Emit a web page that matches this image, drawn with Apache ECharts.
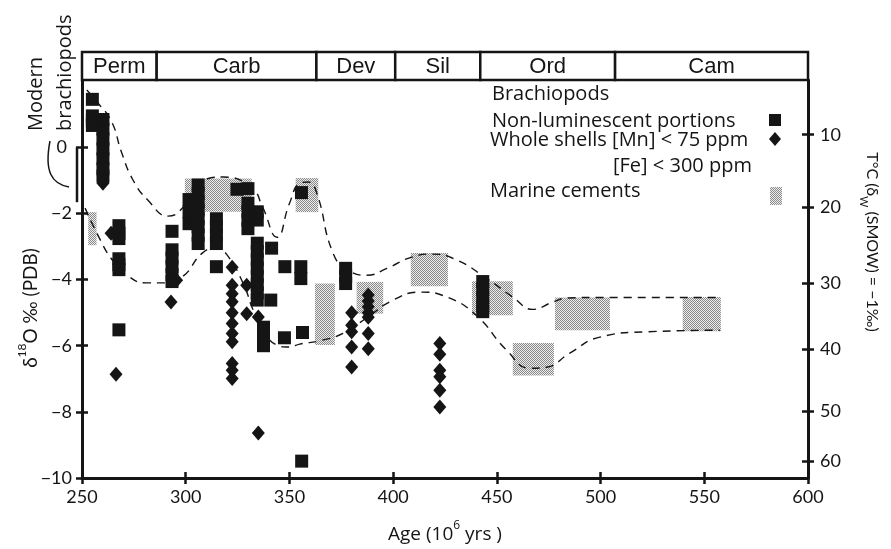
<!DOCTYPE html>
<html><head><meta charset="utf-8">
<script src="https://cdn.jsdelivr.net/npm/echarts@6/dist/echarts.min.js"></script>
<style>html,body{margin:0;padding:0;background:#fff}#c{width:891px;height:549px}</style>
</head><body><div id="c"></div>
<script>
// ---------- data ----------
const xTicks = [250, 300, 350, 400, 450, 500, 550, 600];
const leftTicks = [-10, -8, -6, -4, -2, 0];
const tempLabels = [10, 20, 30, 40, 50, 60];
const tempTickD18O = [0.38, -1.82, -4.1, -6.11, -7.97, -9.49];

const periodNames = ['Perm', 'Carb', 'Dev', 'Sil', 'Ord', 'Cam'];
const periodStart = [250, 286, 363, 401, 442, 507];
const periodEnd   = [286, 363, 401, 442, 507, 600];

// Non-luminescent portions (squares)
const squareAge = [
  255, 255, 255, 255,
  260.1, 260.1, 260.1, 260.1, 260.1, 260.1, 260.1,
  267.8, 267.8, 267.8, 267.8, 267.8, 267.8, 267.8,
  293.4, 293.4, 293.4, 293.4, 293.4, 293.4,
  301.6, 301.6, 301.6,
  306, 306, 306, 306, 306, 306, 306, 306,
  314.8, 314.8, 314.8, 314.8, 314.8,
  324.7, 330, 330, 330, 330, 330, 334.5, 334.5,
  334.5, 334.5, 334.5, 334.5, 334.5, 334.5, 334.5, 334.5, 341.4, 341,
  337.5, 337.5, 337.5,
  347.8, 355.5, 355.5, 347.6, 356.3, 355.9, 355.8,
  377.1, 377.1, 377.1,
  443.2, 443.2, 443.2, 443.2, 443.2
];
const squareD18O = [
  1.45, 0.95, 0.8, 0.66,
  0.84, 0.55, 0.25, -0.05, -0.35, -0.65, -0.87,
  -2.37, -2.6, -2.76, -3.37, -3.55, -3.7, -5.52,
  -2.54, -3.1, -3.35, -3.6, -3.85, -4.06,
  -1.58, -1.95, -2.31,
  -1.14, -1.4, -1.65, -1.9, -2.15, -2.4, -2.65, -2.91,
  -2.16, -2.4, -2.65, -2.91, -3.61,
  -1.27, -1.25, -1.69, -1.95, -2.2, -2.46, -1.95, -2.2,
  -2.9, -3.15, -3.4, -3.65, -3.9, -4.15, -4.4, -4.62, -3.05, -4.62,
  -5.44, -5.7, -6.0,
  -3.61, -3.61, -3.97, -5.76, -5.6, -9.49, -1.37,
  -3.66, -3.9, -4.12,
  -4.06, -4.3, -4.55, -4.8, -4.97
];

// Whole shells (diamonds)
const diamondAge = [
  260.1, 264, 266.4, 295.6, 292.9,
  322.4, 322.4, 322.4, 322.4, 322.4, 322.4, 322.4, 322.4, 322.4, 322.4, 322.4,
  329.4, 329.4, 335, 335,
  380, 380, 380, 380, 380,
  388, 388, 388, 388, 388, 388, 388,
  422.5, 422.5, 422.5, 422.5, 422.5, 422.5
];
const diamondD18O = [
  -1.09, -2.6, -6.86, -4.02, -4.68,
  -3.63, -4.17, -4.43, -4.67, -5.0, -5.33, -5.63, -5.88, -6.54, -6.74, -6.99,
  -4.17, -5.03, -5.13, -8.64,
  -5.0, -5.38, -5.58, -6.04, -6.64,
  -4.47, -4.65, -4.82, -5.0, -5.14, -5.63, -6.09,
  -5.93, -6.26, -6.74, -6.94, -7.35, -7.85
];

// Marine cements (shaded boxes)
const cementAgeFrom = [253, 299.6, 353, 362.3, 382.4, 408.5, 438, 457.7, 478, 539.6];
const cementAgeTo   = [257, 331.8, 363.9, 371.9, 395.2, 426.4, 457.7, 477.5, 504.5, 558];
const cementTop     = [-1.96, -0.94, -0.93, -4.12, -4.07, -3.2, -4.05, -5.92, -4.54, -4.53];
const cementBottom  = [-2.96, -1.95, -1.96, -5.98, -5.03, -4.2, -5.08, -6.9, -5.53, -5.56];

// Dashed envelope curves
const upperAge  = [252.3, 257.7, 264.3, 269, 274.6, 281.8, 291.5, 302, 311.7, 318, 332, 337, 344, 350, 355, 359, 363, 371, 378, 387.3, 397, 409, 419, 430.7, 445, 457.7, 467.3, 477, 483.7, 500, 558];
const upperD18O = [1.73, 1.34, 0.77, -0.14, -0.99, -1.6, -2.08, -1.6, -0.93, -0.9, -1.24, -1.8, -2.72, -1.7, -1.09, -1.05, -1.35, -3.2, -3.7, -3.87, -3.66, -3.32, -3.23, -3.41, -3.96, -4.53, -4.9, -4.68, -4.56, -4.54, -4.54];
const lowerAge  = [251.5, 258, 264.5, 271.7, 281, 290, 298.7, 308, 315, 320, 327.6, 334, 344, 350, 355, 364.7, 375.8, 387, 400, 413, 426, 440, 454.8, 466, 474, 485, 499.6, 522, 557.5];
const lowerD18O = [-1.84, -2.7, -3.4, -3.87, -4.1, -4.1, -3.9, -3.2, -3.05, -3.26, -4.1, -5.1, -5.98, -6.04, -5.95, -5.85, -5.63, -5.17, -4.62, -4.38, -4.53, -5.08, -6.14, -6.68, -6.65, -6.23, -5.74, -5.58, -5.53];

// Modern brachiopods range
const modernAge = 250, modernTop = 0, modernBottom = -1.66;

// ---------- chart ----------
const INK = '#151515';
const FONT = 'Lato';
const TFONT = 'Open Sans';
const pc = document.createElement('canvas');
pc.width = 2; pc.height = 2;
const pctx = pc.getContext('2d');
pctx.fillStyle = '#ececec'; pctx.fillRect(0, 0, 2, 2);
pctx.fillStyle = '#8a8a8a'; pctx.fillRect(0, 0, 1, 1); pctx.fillRect(1, 1, 1, 1);
const cementFill = { image: pc, repeat: 'repeat' };

const minus = v => String(v).replace('-', '\u2212');
const chart = echarts.init(document.getElementById('c'), null, { renderer: 'canvas' });

const yBase = { min: -10, max: 2.035, interval: 2, splitLine: { show: false } };

chart.setOption({
  animation: false,
  backgroundColor: '#fff',
  grid: [
    { left: 82, right: 83, top: 80, bottom: 71 },
    { left: 82, right: 83, top: 52, height: 28 }
  ],
  xAxis: [
    { gridIndex: 0, type: 'value', min: 250, max: 600, interval: 50,
      axisLine: { onZero: false, lineStyle: { color: INK, width: 3 } },
      axisTick: { length: 6, lineStyle: { color: INK, width: 2.5 } },
      axisLabel: { color: INK, fontSize: 18, fontFamily: FONT, margin: 10 },
      splitLine: { show: false },
      name: '{a|Age (10}{s|6}{a| yrs )}', nameLocation: 'middle', nameGap: 42,
      nameTextStyle: { rich: { a: { fontSize: 19, fontFamily: TFONT, color: INK, verticalAlign: 'bottom', lineHeight: 24 },
                               s: { fontSize: 12, fontFamily: TFONT, color: INK, verticalAlign: 'top', lineHeight: 24 } } } },
    { gridIndex: 0, type: 'value', min: 250, max: 600, interval: 50, position: 'bottom',
      axisLine: { show: false, onZero: false }, axisLabel: { show: false }, splitLine: { show: false },
      axisTick: { inside: true, length: 6, lineStyle: { color: INK, width: 2.5 } } },
    { gridIndex: 1, type: 'value', min: 250, max: 600, show: false }
  ],
  yAxis: [
    Object.assign({ gridIndex: 0, type: 'value', position: 'left',
      axisLine: { show: true, onZero: false, lineStyle: { color: INK, width: 3 } },
      axisTick: { show: true, length: 6, customValues: leftTicks, lineStyle: { color: INK, width: 2.5 } },
      axisLabel: { color: INK, fontSize: 18, fontFamily: FONT, margin: 10, customValues: leftTicks,
        formatter: v => v === 0 ? '{z|0}' : minus(v),
        rich: { z: { fontSize: 18, fontFamily: FONT, color: INK, padding: [0, 5, 0, 0] } } } }, yBase),
    Object.assign({ gridIndex: 0, type: 'value', position: 'right',
      axisLine: { show: true, onZero: false, lineStyle: { color: INK, width: 3 } },
      axisTick: { show: true, length: 6, customValues: tempTickD18O, lineStyle: { color: INK, width: 2.5 } },
      axisLabel: { color: INK, fontSize: 18, fontFamily: FONT, margin: 12, customValues: tempTickD18O,
        formatter: v => { const i = tempTickD18O.findIndex(t => Math.abs(t - v) < 1e-6); return i >= 0 ? String(tempLabels[i]) : ''; } } }, yBase),
    Object.assign({ gridIndex: 0, type: 'value', position: 'left',
      axisLine: { show: false, onZero: false }, axisLabel: { show: false },
      axisTick: { show: true, inside: true, length: 6, customValues: leftTicks, lineStyle: { color: INK, width: 2.5 } } }, yBase),
    Object.assign({ gridIndex: 0, type: 'value', position: 'right',
      axisLine: { show: false, onZero: false }, axisLabel: { show: false },
      axisTick: { show: true, inside: true, length: 6, customValues: tempTickD18O, lineStyle: { color: INK, width: 2.5 } } }, yBase),
    { gridIndex: 1, type: 'value', min: 0, max: 1, show: false }
  ],
  series: [
    { type: 'custom', name: 'Marine cements', xAxisIndex: 0, yAxisIndex: 0, z: 1,
      data: cementAgeFrom.map((a, i) => [a, cementAgeTo[i], cementTop[i], cementBottom[i]]),
      renderItem: (params, api) => {
        const p0 = api.coord([api.value(0), api.value(2)]);
        const p1 = api.coord([api.value(1), api.value(3)]);
        return { type: 'rect', shape: { x: p0[0], y: p0[1], width: p1[0] - p0[0], height: p1[1] - p0[1] },
                 style: { fill: cementFill } };
      } },
    { type: 'line', name: 'upper', xAxisIndex: 0, yAxisIndex: 0, z: 2, smooth: 0.5, showSymbol: false, symbol: 'none',
      data: upperAge.map((a, i) => [a, upperD18O[i]]),
      lineStyle: { color: INK, width: 1.4, type: [8, 6] } },
    { type: 'line', name: 'lower', xAxisIndex: 0, yAxisIndex: 0, z: 2, smooth: 0.5, showSymbol: false, symbol: 'none',
      data: lowerAge.map((a, i) => [a, lowerD18O[i]]),
      lineStyle: { color: INK, width: 1.4, type: [8, 6] } },
    { type: 'scatter', name: 'Non-luminescent portions', xAxisIndex: 0, yAxisIndex: 0, z: 3,
      symbol: 'rect', symbolSize: 13, itemStyle: { color: INK, opacity: 1 },
      data: squareAge.map((a, i) => [a, squareD18O[i]]) },
    { type: 'scatter', name: 'Whole shells', xAxisIndex: 0, yAxisIndex: 0, z: 3,
      symbol: 'diamond', symbolSize: [13, 15], itemStyle: { color: INK, opacity: 1 },
      data: diamondAge.map((a, i) => [a, diamondD18O[i]]) },
    { type: 'custom', name: 'modern', xAxisIndex: 0, yAxisIndex: 0, z: 4, clip: false,
      data: [[modernAge, modernTop, modernBottom]],
      renderItem: (params, api) => {
        const p0 = api.coord([api.value(0), api.value(1)]);
        const p1 = api.coord([api.value(0), api.value(2)]);
        return { type: 'line', shape: { x1: p0[0] - 5, y1: p0[1], x2: p1[0] - 5, y2: p1[1] },
                 style: { stroke: INK, lineWidth: 2.5 } };
      } },
    { type: 'custom', name: 'periods', xAxisIndex: 2, yAxisIndex: 4, z: 5, clip: false,
      data: periodStart.map((s, i) => [s, periodEnd[i]]),
      renderItem: (params, api) => {
        const p0 = api.coord([api.value(0), 1]);
        const p1 = api.coord([api.value(1), 0]);
        return { type: 'group', children: [
          { type: 'rect', shape: { x: p0[0], y: p0[1], width: p1[0] - p0[0], height: p1[1] - p0[1] },
            style: { fill: '#fff', stroke: INK, lineWidth: 2.5 } },
          { type: 'text', style: { text: periodNames[params.dataIndex], x: (p0[0] + p1[0]) / 2, y: (p0[1] + p1[1]) / 2 + 1,
            align: 'center', verticalAlign: 'middle', fontSize: 22, fontFamily: 'Liberation Sans', fill: INK } }
        ] };
      } }
  ],
  graphic: [
    // left axis name
    { type: 'text', x: 28, y: 308, rotation: Math.PI / 2,
      style: { text: '{a|δ}{s|18}{a|O ‰ (PDB)}', align: 'center', verticalAlign: 'middle',
        rich: { a: { fontSize: 19, fontFamily: FONT, fill: INK, verticalAlign: 'bottom', lineHeight: 24 },
                s: { fontSize: 12, fontFamily: FONT, fill: INK, verticalAlign: 'top', lineHeight: 24 } } } },
    // right axis name
    { type: 'text', x: 869, y: 242, rotation: -Math.PI / 2,
      style: { text: '{a|T°C (δ}{b|W}{a| (SMOW) = \u22121‰)}', align: 'center', verticalAlign: 'middle',
        rich: { a: { fontSize: 16, fontFamily: FONT, fill: INK, verticalAlign: 'top', lineHeight: 22 },
                b: { fontSize: 11, fontFamily: FONT, fill: INK, verticalAlign: 'bottom', lineHeight: 22 } } } },
    // modern brachiopods annotation
    { type: 'text', x: 36, y: 131, rotation: Math.PI / 2,
      style: { text: 'Modern', align: 'left', verticalAlign: 'middle', fontSize: 20, fontFamily: TFONT, fill: INK } },
    { type: 'text', x: 65, y: 131, rotation: Math.PI / 2,
      style: { text: 'brachiopods', align: 'left', verticalAlign: 'middle', fontSize: 20, fontFamily: TFONT, fill: INK } },
    { type: 'bezierCurve', shape: { x1: 50, y1: 141, cpx1: 44, cpy1: 172, cpx2: 52, cpy2: 184, x2: 69, y2: 187 },
      style: { stroke: INK, lineWidth: 1.5, fill: null } },
    // legend
    { type: 'text', x: 492, y: 94, style: { text: 'Brachiopods', verticalAlign: 'middle', fontSize: 20, fontFamily: TFONT, fill: INK } },
    { type: 'text', x: 492, y: 121, style: { text: 'Non-luminescent portions', verticalAlign: 'middle', fontSize: 20, fontFamily: TFONT, fill: INK } },
    { type: 'text', x: 490, y: 140, style: { text: 'Whole shells [Mn] < 75 ppm', verticalAlign: 'middle', fontSize: 20, fontFamily: TFONT, fill: INK } },
    { type: 'text', x: 613, y: 166, style: { text: '[Fe] < 300 ppm', verticalAlign: 'middle', fontSize: 20, fontFamily: TFONT, fill: INK } },
    { type: 'text', x: 490, y: 191, style: { text: 'Marine cements', verticalAlign: 'middle', fontSize: 20, fontFamily: TFONT, fill: INK } },
    { type: 'rect', shape: { x: 769, y: 114, width: 12, height: 12 }, style: { fill: INK } },
    { type: 'polygon', shape: { points: [[775, 132], [781, 139], [775, 146], [769, 139]] }, style: { fill: INK } },
    { type: 'rect', shape: { x: 770, y: 187, width: 12, height: 18 }, style: { fill: cementFill } }
  ]
});
</script>
</body></html>
